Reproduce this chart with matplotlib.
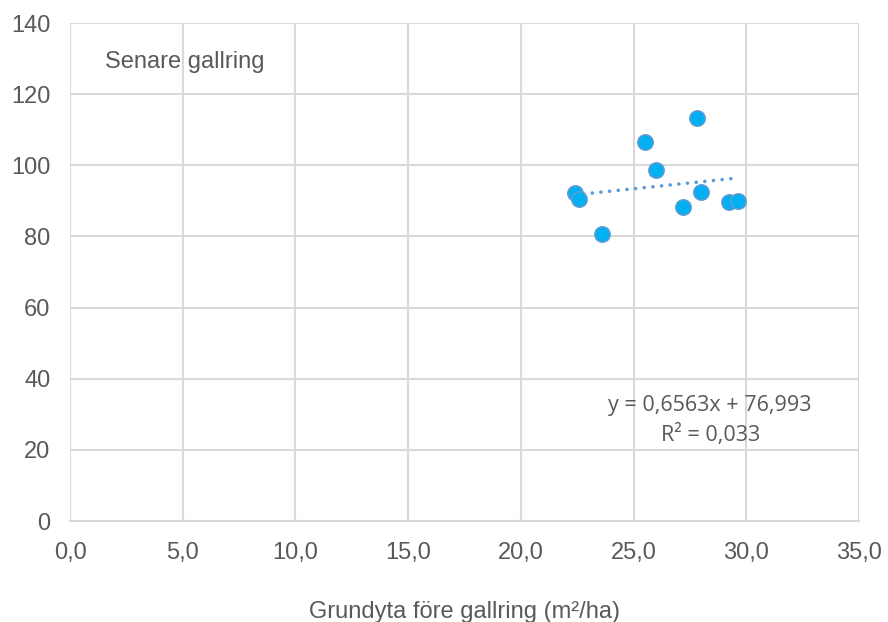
import matplotlib
matplotlib.use("Agg")
import matplotlib.pyplot as plt
import numpy as np

# Basal area before thinning (m²/ha) and response values
grundyta = [22.40, 22.60, 23.59, 25.51, 26.00, 27.80, 27.20, 28.01, 29.24, 29.62]
varde = [92.1, 90.4, 80.7, 106.6, 98.7, 113.4, 88.2, 92.6, 89.8, 90.1]

# Linear trendline coefficients
lutning = 0.6563
intercept = 76.993
r2 = 0.033

x_ticks = [0, 5, 10, 15, 20, 25, 30, 35]
y_ticks = [0, 20, 40, 60, 80, 100, 120, 140]

plt.rcParams['font.family'] = ['Liberation Sans', 'DejaVu Sans']

fig = plt.figure(figsize=(8.88, 6.22), dpi=100)
ax = fig.add_axes([70/888, 1 - 521/622, (859-70)/888, (521-23)/622])

grid_c = '#D9D9D9'
text_c = '#595959'
fs = 17

ax.set_xlim(0, 35)
ax.set_ylim(0, 140)
ax.set_xticks(x_ticks)
ax.set_yticks(y_ticks)
ax.set_xticklabels([f"{v:.1f}".replace('.', ',') for v in x_ticks])
ax.set_yticklabels([str(v) for v in y_ticks])
ax.grid(True, color=grid_c, linewidth=1.5)
ax.set_axisbelow(True)
for s in ax.spines.values():
    s.set_visible(False)
ax.spines['bottom'].set_visible(True)
ax.spines['bottom'].set_color(grid_c)
ax.spines['bottom'].set_linewidth(1.5)
ax.tick_params(length=0, labelsize=fs, colors=text_c)
ax.tick_params(axis='x', pad=15)
ax.tick_params(axis='y', pad=14)

# trendline over the data range
xs = np.array([min(grundyta), max(grundyta)])
ax.plot(xs, lutning * xs + intercept, linestyle=(0, (0.01, 2.4)), color='#5B9BD5',
        linewidth=2.6, dash_capstyle='round', solid_capstyle='round', zorder=2)

ax.scatter(grundyta, varde, s=120, facecolor='#00B0F0', edgecolor='#5B9BD5',
           linewidth=1.2, zorder=3)

ax.text(0.0445, 0.922, "Senare gallring", transform=ax.transAxes, fontsize=fs,
        color=text_c, ha='left', va='center')

eq = f"y = {lutning:.4f}x + {intercept:.3f}".replace('.', ',')
rr = f"R² = {r2:.3f}".replace('.', ',')
ax.text(28.4, 32.6, eq, fontsize=15.5, color=text_c, ha='center', va='center',
        family=['Open Sans', 'DejaVu Sans'])
ax.text(28.4, 24.2, rr, fontsize=15.5, color=text_c, ha='center', va='center',
        family=['Open Sans', 'DejaVu Sans'])

ax.set_xlabel("Grundyta före gallring (m²/ha)", fontsize=fs, color=text_c,
              labelpad=27)

fig.savefig("out.png", dpi=100)
